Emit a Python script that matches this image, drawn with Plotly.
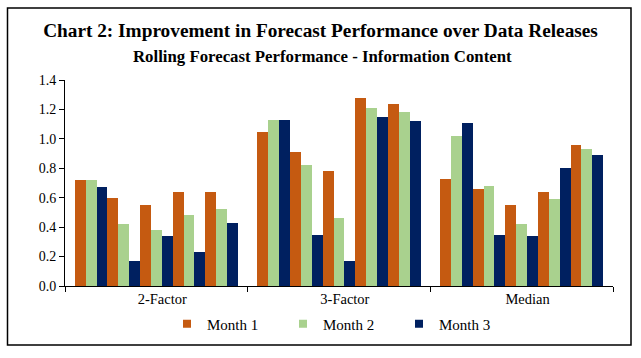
import plotly.graph_objects as go

categories = ["2-Factor", "3-Factor", "Median"]
series_names = ["Month 1", "Month 2", "Month 3"]
# values for 5 sub-clusters within each category
month1 = [[0.72, 0.60, 0.55, 0.64, 0.64],
          [1.05, 0.91, 0.78, 1.28, 1.24],
          [0.73, 0.66, 0.55, 0.64, 0.96]]
month2 = [[0.72, 0.42, 0.38, 0.48, 0.52],
          [1.13, 0.82, 0.46, 1.21, 1.18],
          [1.02, 0.68, 0.42, 0.59, 0.93]]
month3 = [[0.67, 0.17, 0.34, 0.23, 0.43],
          [1.13, 0.35, 0.17, 1.15, 1.12],
          [1.11, 0.35, 0.34, 0.80, 0.89]]
y_ticks = [0.0, 0.2, 0.4, 0.6, 0.8, 1.0, 1.2, 1.4]

colors = ["#C55A11", "#A9D18E", "#002060"]

n_sub = 5
gap = 0.6            # category gap in cluster units
cat_w = n_sub + gap  # width of one category
xs = [i * cat_w + gap / 2 + 0.5 + j for i in range(len(categories)) for j in range(n_sub)]

fig = go.Figure()
for name, vals, col in zip(series_names, [month1, month2, month3], colors):
    flat = [v for row in vals for v in row]
    fig.add_trace(go.Bar(x=xs, y=flat, name=name, marker=dict(color=col, line=dict(width=0)),
                         showlegend=False, hoverinfo="y"))
    fig.add_trace(go.Scatter(x=[None], y=[None], mode="markers", name=name,
                             marker=dict(symbol="square", size=8, color=col)))

W, H = 641, 358
ml, mr, mt, mb = 65, 28, 80, 72
pw, ph = W - ml - mr, H - mt - mb

def px_x(p):
    return (p - ml) / pw

def px_y(p):
    return 1 - (p - mt) / ph

label_shift = 0.18  # category labels sit slightly right of centre in the original

fig.update_layout(
    width=W, height=H,
    margin=dict(l=ml, r=mr, t=mt, b=mb),
    paper_bgcolor="white", plot_bgcolor="white",
    barmode="group", bargap=0, bargroupgap=0,
    font=dict(family="Liberation Serif", color="black", size=13),
    title=dict(text="<b>Chart 2: Improvement in Forecast Performance over Data Releases</b>",
               x=320.5 / W, xref="container", xanchor="center", y=1 - 30 / H, yanchor="middle",
               font=dict(family="Liberation Serif", size=19.3, color="black")),
    annotations=[dict(text="<b>Rolling Forecast Performance - Information Content</b>",
                      xref="paper", yref="paper", x=px_x(322), y=px_y(56),
                      xanchor="center", yanchor="middle", showarrow=False,
                      font=dict(family="Liberation Serif", size=16.8, color="black"))],
    xaxis=dict(range=[0, cat_w * len(categories)],
               tickmode="array",
               tickvals=[i * cat_w + cat_w / 2 + label_shift for i in range(len(categories))],
               ticktext=categories, ticks="",
               showline=True, linecolor="black", linewidth=1,
               showgrid=False, zeroline=False,
               tickfont=dict(size=14.5),
               minor=dict(tickmode="array",
                          tickvals=[i * cat_w for i in range(len(categories) + 1)],
                          ticks="outside", ticklen=5, tickcolor="black", tickwidth=1,
                          showgrid=False)),
    yaxis=dict(range=[0, 1.4], tickmode="array", tickvals=y_ticks,
               ticktext=[f"{v:.1f}" for v in y_ticks],
               ticks="outside", ticklen=5, tickcolor="black",
               showline=True, linecolor="black", linewidth=1,
               showgrid=False, zeroline=False, tickfont=dict(size=14)),
    legend=dict(orientation="h", x=px_x(341), xanchor="center", y=px_y(324), yanchor="middle",
                font=dict(size=15), entrywidth=71, bgcolor="rgba(0,0,0,0)",
                itemclick=False),
    shapes=[dict(type="rect", xref="paper", yref="paper",
                 x0=px_x(7.5), x1=px_x(631), y0=px_y(8), y1=px_y(345),
                 line=dict(color="black", width=1.5), fillcolor="rgba(0,0,0,0)", layer="above")],
)

fig.write_html("out.html", config={"displayModeBar": False},
               post_script="document.body.style.margin='0';document.body.style.padding='0';")
